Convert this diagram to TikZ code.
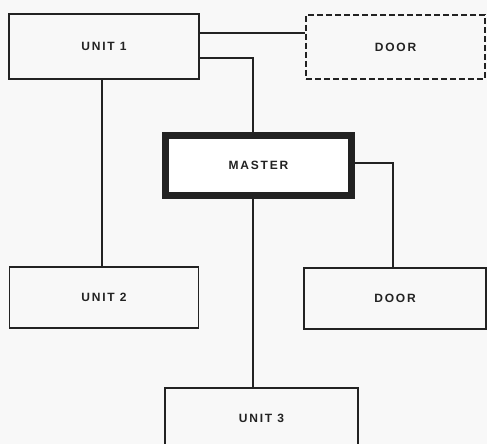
\documentclass[tikz,border=0pt]{standalone}
\usepackage{fontspec}
\newfontfamily\boxfont[LetterSpace=15]{Liberation Sans Bold}
\definecolor{ink}{HTML}{222222}
\definecolor{paper}{HTML}{F8F8F8}
\tikzset{
  unitbox/.style={draw=ink,line width=1.6pt,minimum width=#1,minimum height=61pt,
    inner sep=0pt,font=\boxfont\fontsize{12}{14}\selectfont,text=ink},
  unitbox/.default=189pt,
  doorbox/.style={unitbox=#1,dash pattern=on 6pt off 3pt,line width=2.4pt},
  masterbox/.style={unitbox=186pt,minimum height=60pt,line width=7pt,fill=white},
  wire/.style={draw=ink,line width=1.4pt}
}
\begin{document}
\begin{tikzpicture}[x=1pt,y=1pt]
\fill[paper] (0,0) rectangle (487,444);
\useasboundingbox (0,0) rectangle (487,444);
\node[unitbox=190pt,minimum height=65pt] (unit1) at (104,397.5) {UNIT 1};
\node[doorbox=179pt,minimum height=64pt] (door1) at (395.5,397) {DOOR};
\node[masterbox] (master) at (258.5,278.5) {MASTER};
\node[unitbox] (unit2) at (104,146.5) {UNIT 2};
\node[unitbox=182pt] (door2) at (395,145.5) {DOOR};
\node[unitbox=193pt,minimum height=61pt] (unit3) at (261.5,25.5) {UNIT 3};
\draw[wire] ([yshift=13.5pt]unit1.east) coordinate (a) -- (a -| door1.west);
\draw[wire] ([yshift=-11.5pt]unit1.east) -| ([xshift=-5.5pt]master.north);
\draw[wire] ([xshift=-2pt]unit1.south) -- ([xshift=-2pt]unit2.north);
\draw[wire] ([yshift=2.5pt]master.east) -| ([xshift=-2pt]door2.north);
\draw[wire] ([xshift=-5.5pt]master.south) coordinate (b) -- (b |- unit3.north);
\end{tikzpicture}
\end{document}
